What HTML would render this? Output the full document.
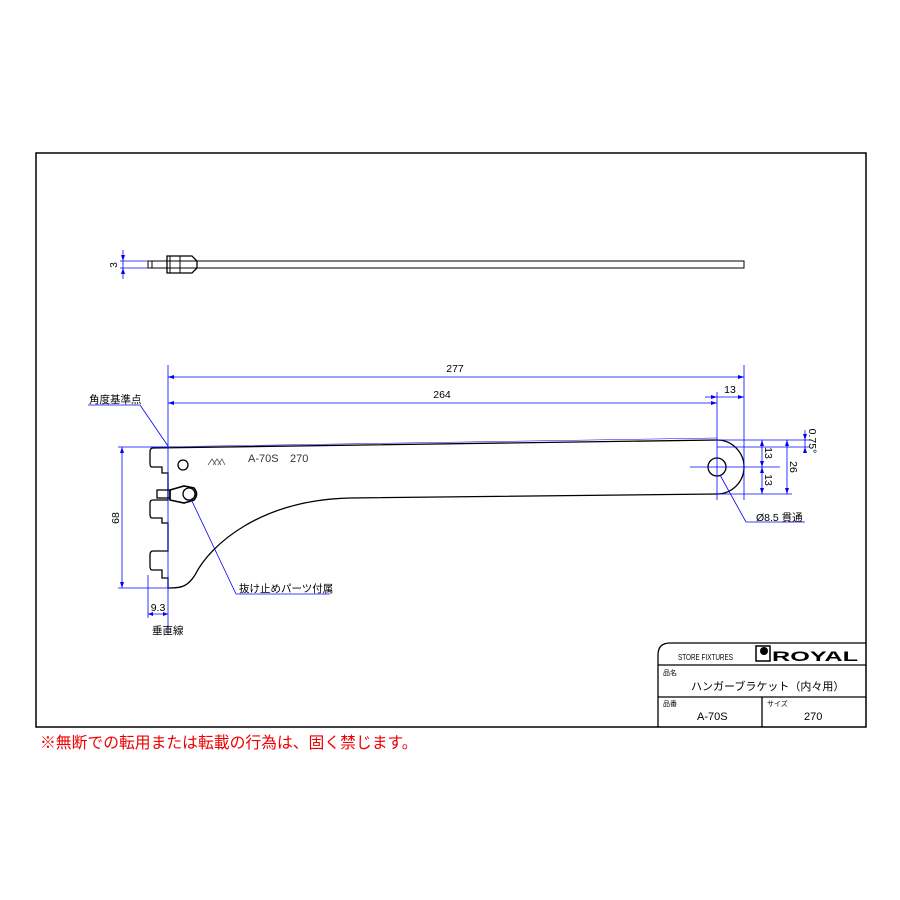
<!DOCTYPE html>
<html><head><meta charset="utf-8"><style>
html,body{margin:0;padding:0;background:#fff}
svg{display:block}
text{font-family:"Liberation Sans","Noto Sans CJK JP",sans-serif}
</style></head><body>
<svg width="900" height="900" viewBox="0 0 900 900" xmlns="http://www.w3.org/2000/svg">
<rect x="36" y="153" width="830" height="574" fill="none" stroke="#000" stroke-width="1.5"/>
<!-- top view -->
<g stroke="#000" fill="none" stroke-width="1">
<rect x="148" y="261" width="596" height="7"/>
<line x1="152" y1="261" x2="152" y2="268"/>
<path d="M167 256 L192 256 L197 261 L197 268 L192 273 L167 273 Z" stroke-width="1.3"/>
<line x1="170" y1="256" x2="170" y2="273"/>
<line x1="180" y1="256" x2="180" y2="273"/>
</g>
<g stroke="#00f" fill="none" stroke-width="0.8">
<line x1="120" y1="261" x2="148" y2="261"/><line x1="120" y1="268" x2="148" y2="268"/>
<line x1="123" y1="250" x2="123" y2="279"/>
</g>
<text x="117" y="265" font-size="10" transform="rotate(-90 117 265)" text-anchor="middle">3</text>
<!-- bracket -->
<g stroke="#000" fill="none" stroke-width="1.3">
<path d="M153 448 L717 440 A27 27 0 0 1 717 494 L350 498 C260 500 210 545 195 575 C188 586 182 588 170 588 L168 588 L168 578 L162 578 L162 570 L152 570 Q150 570 150 566 L150 555 Q150 551 153 551 L168 551 L168 523 L162 523 L162 518 L152 518 Q150 518 150 514 L150 503 Q150 500 153 500 L168 500 L168 473 L162 473 L162 467 L152 467 Q150 467 150 463 L150 452 Q150 448 153 448 Z"/>
<circle cx="183" cy="465" r="5"/>
<circle cx="717" cy="467" r="9"/>
<path d="M170 490 L184 486 L194 488 Q199 494 194 500 L184 503 L170 500 Z" stroke-width="1.6"/>
<circle cx="189" cy="494" r="6"/>
<rect x="157" y="490" width="13" height="8"/>
</g>
<path d="M208 465 L212 459 L216 465 M213 465 L217 459 L221 465 M218 465 L222 459 L225 465" stroke="#555" fill="none" stroke-width="0.8"/>
<text x="248" y="462" font-size="11" fill="#333">A-70S</text>
<text x="290" y="462" font-size="11" fill="#333">270</text>
<!-- dimensions -->
<g stroke="#00f" fill="none" stroke-width="0.8">
<line x1="168" y1="365" x2="168" y2="635"/>
<line x1="744" y1="365" x2="744" y2="500"/>
<line x1="717" y1="392" x2="717" y2="500"/>
<line x1="168" y1="377" x2="744" y2="377"/>
<line x1="168" y1="403" x2="717" y2="403"/>
<line x1="705" y1="397" x2="744" y2="397"/>
<line x1="690" y1="467" x2="780" y2="467"/>
<line x1="717" y1="440" x2="810" y2="440"/>
<line x1="150" y1="447" x2="717" y2="438" stroke-width="0.5"/>
<line x1="717" y1="494" x2="792" y2="494"/>
<line x1="762" y1="440" x2="762" y2="494"/>
<line x1="787" y1="440" x2="787" y2="494"/>
<line x1="805" y1="430" x2="805" y2="452"/>
<line x1="717" y1="447" x2="810" y2="447"/>
<line x1="118" y1="447" x2="168" y2="447"/>
<line x1="118" y1="588" x2="168" y2="588"/>
<line x1="122" y1="447" x2="122" y2="588"/>
<line x1="148" y1="575" x2="148" y2="618"/>
<line x1="148" y1="614" x2="168" y2="614"/>
<line x1="88" y1="405" x2="140" y2="405"/>
<line x1="140" y1="405" x2="168" y2="446"/>
<line x1="191" y1="499" x2="236" y2="594"/><line x1="236" y1="594" x2="330" y2="594"/>
<line x1="720" y1="475" x2="746" y2="522"/><line x1="746" y1="522" x2="805" y2="522"/>
</g>
<g fill="#00f">
<path d="M168 377 l6 -2 v4z M744 377 l-6 -2 v4z M168 403 l6 -2 v4z M717 403 l-6 -2 v4z"/>
<path d="M717 397 l-6 -2 v4z M744 397 l-6 -2 v4z"/>
<path d="M762 440 l-2 6 h4z M762 467 l-2 -6 h4z M762 467 l-2 6 h4z M762 494 l-2 -6 h4z"/>
<path d="M787 440 l-2 6 h4z M787 494 l-2 -6 h4z M805 440 l-2 -6 h4z M805 447 l-2 6 h4z"/>
<path d="M122 447 l-2 6 h4z M122 588 l-2 -6 h4z M148 614 l5 -2 v4z M168 614 l-5 -2 v4z"/>
<path d="M123 261 l-2 -6 h4z M123 268 l-2 6 h4z"/>
</g>
<g font-size="10.5" fill="#000">
<text x="455" y="372" text-anchor="middle">277</text>
<text x="442" y="398" text-anchor="middle">264</text>
<text x="730" y="393" text-anchor="middle">13</text>
<text x="765" y="453" transform="rotate(90 765 453)" text-anchor="middle">13</text>
<text x="765" y="480" transform="rotate(90 765 480)" text-anchor="middle">13</text>
<text x="790" y="467" transform="rotate(90 790 467)" text-anchor="middle">26</text>
<text x="809" y="441" transform="rotate(90 809 441)" text-anchor="middle">0.75°</text>
<text x="119" y="518" transform="rotate(-90 119 518)" text-anchor="middle">68</text>
<text x="158" y="611" text-anchor="middle">9.3</text>
<text x="89" y="403">角度基準点</text>
<text x="152" y="634">垂直線</text>
<text x="239" y="592">抜け止めパーツ付属</text>
<text x="756" y="521">Ø8.5 貫通</text>
</g>
<!-- title block -->
<g stroke="#000" fill="none" stroke-width="1.3">
<path d="M658 727 L658 655 Q658 643 670 643 L866 643"/>
<line x1="658" y1="665" x2="866" y2="665"/>
<line x1="658" y1="697" x2="866" y2="697"/>
<line x1="762" y1="697" x2="762" y2="727"/>
</g>
<text x="678" y="660" font-size="8.5" textLength="55" lengthAdjust="spacingAndGlyphs">STORE FIXTURES</text>
<rect x="756" y="646" width="14" height="15" fill="none" stroke="#000" stroke-width="1.5"/>
<circle cx="764" cy="651" r="4" fill="#000"/>
<text x="772" y="661" font-size="14" font-weight="bold" textLength="86" lengthAdjust="spacingAndGlyphs">ROYAL</text>
<text x="663" y="675" font-size="7">品名</text>
<text x="691" y="690" font-size="11">ハンガーブラケット（内々用）</text>
<text x="663" y="706" font-size="7">品番</text>
<text x="697" y="720" font-size="11">A-70S</text>
<text x="767" y="706" font-size="7">サイズ</text>
<text x="804" y="720" font-size="11">270</text>
<text x="40" y="748" font-size="15.8" fill="#e00">※無断での転用または転載の行為は、固く禁じます。</text>
</svg>
</body></html>
